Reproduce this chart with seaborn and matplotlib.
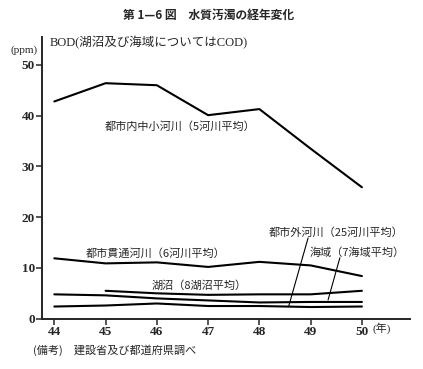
import numpy as np
import pandas as pd
import seaborn as sns
import matplotlib.pyplot as plt

# 年度 (昭和)
years = [44, 45, 46, 47, 48, 49, 50]

# BOD / COD (ppm)
urban_small = [42.8, 46.4, 46.0, 40.1, 41.3, 33.5, 25.9]   # 都市内中小河川
urban_through = [11.9, 10.9, 11.1, 10.2, 11.2, 10.5, 8.4]  # 都市貫通河川
lakes = [np.nan, 5.5, 5.0, 4.7, 4.8, 4.8, 5.5]             # 湖沼
sea = [4.8, 4.6, 4.0, 3.6, 3.2, 3.3, 3.3]                  # 海域
outer_rivers = [2.4, 2.6, 3.0, 2.5, 2.5, 2.3, 2.4]         # 都市外河川

y_ticks = [0, 10, 20, 30, 40, 50]

sns.set_style("ticks")
plt.rcParams['font.family'] = ['Liberation Serif', 'Noto Sans CJK JP']
plt.rcParams['axes.linewidth'] = 1.4

series = {
    '都市内中小河川': urban_small,
    '都市貫通河川': urban_through,
    '湖沼': lakes,
    '海域': sea,
    '都市外河川': outer_rivers,
}
df = pd.DataFrame({'year': years, **series}).melt(id_vars='year', var_name='kind', value_name='ppm')

fig = plt.figure(figsize=(4.23, 3.69), dpi=100)
ax = fig.add_axes([0.0986, 0.1363, 0.8704, 0.7634])

for name in series:
    sub = df[df['kind'] == name].dropna()
    sns.lineplot(data=sub, x='year', y='ppm', ax=ax, color='black', lw=1.5, legend=False)

ax.set_xlim(43.754, 50.936)
ax.set_ylim(0, 55.5)
ax.set_xticks(years)
ax.set_yticks(y_ticks)
ax.set_xlabel('')
ax.set_ylabel('')
ax.tick_params(axis='both', labelsize=9.5, width=1.1, length=4, pad=1)
for t in ax.get_xticklabels() + ax.get_yticklabels():
    t.set_fontweight('bold')
sns.despine(ax=ax)

cjk = ['Noto Sans CJK JP']
lab = dict(fontsize=8, family=cjk, ha='center', va='center')
ax.text(46.45, 37.8, '都市内中小河川（5河川平均）', **lab)
ax.text(45.98, 12.75, '都市貫通河川（6河川平均）', **lab)
ax.text(46.83, 6.45, '湖沼（8湖沼平均）', **lab)
ax.text(49.49, 16.9, '都市外河川（25河川平均）', **lab)
ax.text(49.9, 12.95, '海域（7海域平均）', **lab)

# pointer lines
x_out = 48.57
ax.annotate('', xy=(x_out, np.interp(x_out, years, outer_rivers)), xytext=(48.95, 15.9),
            arrowprops=dict(arrowstyle='-', color='black', lw=0.8, shrinkA=0, shrinkB=0))
x_sea = 49.34
ax.annotate('', xy=(x_sea, np.interp(x_sea, years, sea) + 0.4), xytext=(49.57, 12.0),
            arrowprops=dict(arrowstyle='-', color='black', lw=0.8, shrinkA=0, shrinkB=0))

fig.text(0.494, 1 - 15 / 369, '第 1—6 図　水質汚濁の経年変化', fontsize=8.5, fontweight='bold',
         family=cjk, ha='center', va='center')
fig.text(50 / 423, 1 - 43 / 369, 'BOD(湖沼及び海域についてはCOD)', fontsize=9, ha='left', va='center')
fig.text(38 / 423, 1 - 50 / 369, '(ppm)', fontsize=8, ha='right', va='center')
fig.text(372 / 423, 1 - 328 / 369, '(年)', fontsize=8, ha='left', va='center')
fig.text(33 / 423, 1 - 350 / 369, '(備考)　建設省及び都道府県調べ', fontsize=8, family=cjk,
         ha='left', va='center')

fig.savefig('out.png', dpi=100)
